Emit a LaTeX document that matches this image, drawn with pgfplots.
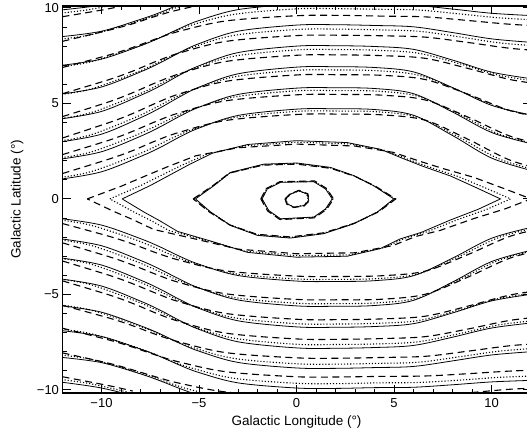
\documentclass[border=0pt]{standalone}
\usepackage{fontspec}
\setmainfont{Liberation Sans}
\usepackage{pgfplots}
\pgfplotsset{compat=1.18}

% contour styles: three models drawn solid, dotted, dashed
\pgfplotsset{
  sol/.style={black, line width=0.8pt, smooth, tension=0.55},
  dot/.style={black, line width=1.1pt, dash pattern=on 1.1pt off 2pt, smooth, tension=0.55},
  das/.style={black, line width=1.1pt, dash pattern=on 7pt off 4.5pt, smooth, tension=0.55},
  solp/.style={black, line width=0.8pt, sharp plot},
  dotp/.style={black, line width=1.1pt, dash pattern=on 1.1pt off 2pt, sharp plot},
  dasp/.style={black, line width=1.1pt, dash pattern=on 7pt off 4.5pt, sharp plot},
}

\begin{document}
\begin{tikzpicture}
\begin{axis}[
  scale only axis, width=468pt, height=386.8pt,
  xmin=-12, xmax=12, ymin=-10.15, ymax=10.1,
  axis line style={line width=1.5pt},
  xtick={-10,-5,0,5,10}, xticklabels={−10,−5,0,5,10},
  ytick={-10,-5,0,5,10}, yticklabels={−10,−5,0,5,10},
  minor x tick num=4, minor y tick num=4,
  tick align=inside, major tick length=8pt, minor tick length=4pt,
  tick style={black, line width=1pt},
  every tick label/.append style={font=\fontsize{13}{13}\selectfont},
  xticklabel style={yshift=-2pt},
  xlabel={Galactic Longitude (°)}, ylabel={Galactic Latitude (°)},
  every axis x label/.style={at={(axis description cs:0.5,-0.075)}, anchor=center, font=\fontsize{13.5}{14}\selectfont},
  every axis y label/.style={at={(axis description cs:-0.0972,0.5)}, rotate=90, anchor=center, font=\fontsize{13.5}{14}\selectfont},
  no markers, clip=true,
]
% ---------- upper contours, solid ----------
\addplot[sol] coordinates {(-12,1.05) (-10,1.42) (-8,2.22) (-7,2.69) (-6,3.24) (-5,3.71) (-3,4.37) (0,4.7) (2,4.72) (4,4.68) (6,4.38) (8,3.32) (10,2.14) (12,1.5)};
\addplot[sol] coordinates {(-12,2.1) (-10,2.47) (-8,3.28) (-7,3.77) (-6,4.32) (-5,4.8) (-3,5.47) (0,5.8) (2,5.82) (4,5.78) (6,5.51) (8,4.55) (10,3.48) (12,2.9)};
\addplot[sol] coordinates {(-12,3.0) (-10,3.39) (-8,4.25) (-7,4.76) (-6,5.34) (-5,5.85) (-3,6.55) (0,6.9) (2,6.92) (4,6.88) (6,6.65) (8,5.83) (10,4.9) (12,4.4)};
\addplot[sol] coordinates {(-12,4.2) (-10,4.58) (-8,5.42) (-7,5.91) (-6,6.48) (-5,6.97) (-3,7.66) (0,8.0) (2,8.02) (4,7.98) (6,7.83) (8,7.27) (10,6.64) (12,6.3)};
\addplot[sol] coordinates {(-12,5.5) (-10,5.86) (-8,6.65) (-7,7.12) (-6,7.66) (-5,8.13) (-3,8.78) (0,9.1) (2,9.12) (4,9.08) (6,9.01) (8,8.71) (10,8.38) (12,8.2)};
\addplot[sol] coordinates {(-12,7.0) (-10,7.32) (-8,8.02) (-7,8.44) (-6,8.92) (-5,9.34) (-3,9.91) (0,10.2) (2,10.22) (4,10.18) (6,10.14) (8,9.94) (10,9.72) (12,9.6)};
\addplot[sol] coordinates {(-12,8.5) (-10,8.78) (-8,9.4) (-7,9.76) (-6,10.18) (-5,10.54)};
\addplot[sol] coordinates {(-12,9.9) (-10,10.15) (-8,10.6)};
% ---------- upper contours, dotted ----------
\addplot[dot] coordinates {(-12.84,1.02) (-10.7,1.38) (-8.56,2.16) (-7.49,2.62) (-6.42,3.16) (-5.35,3.62) (-3.21,4.26) (0,4.58) (2.08,4.6) (4.16,4.56) (6.24,4.27) (8.32,3.24) (10.4,2.09) (12.48,1.46)};
\addplot[dot] coordinates {(-12.84,2.05) (-10.7,2.41) (-8.56,3.2) (-7.49,3.68) (-6.42,4.21) (-5.35,4.68) (-3.21,5.33) (0,5.66) (2.08,5.67) (4.16,5.64) (6.24,5.37) (8.32,4.44) (10.4,3.39) (12.48,2.83)};
\addplot[dot] coordinates {(-12.84,2.93) (-10.7,3.31) (-8.56,4.14) (-7.49,4.64) (-6.42,5.21) (-5.35,5.7) (-3.21,6.39) (0,6.73) (2.08,6.75) (4.16,6.71) (6.24,6.48) (8.32,5.68) (10.4,4.78) (12.48,4.29)};
\addplot[dot] coordinates {(-12.84,4.1) (-10.7,4.47) (-8.56,5.28) (-7.49,5.76) (-6.42,6.32) (-5.35,6.8) (-3.21,7.47) (0,7.8) (2.08,7.82) (4.16,7.78) (6.24,7.63) (8.32,7.09) (10.4,6.47) (12.48,6.14)};
\addplot[dot] coordinates {(-12.84,5.36) (-10.7,5.71) (-8.56,6.48) (-7.49,6.94) (-6.42,7.47) (-5.35,7.93) (-3.21,8.56) (0,8.87) (2.08,8.89) (4.16,8.85) (6.24,8.78) (8.32,8.49) (10.4,8.17) (12.48,8.0)};
\addplot[dot] coordinates {(-12.84,6.83) (-10.7,7.14) (-8.56,7.82) (-7.49,8.23) (-6.42,8.7) (-5.35,9.11) (-3.21,9.66) (0,9.95) (2.08,9.96) (4.16,9.93) (6.24,9.89) (8.32,9.69) (10.4,9.48) (12.48,9.36)};
\addplot[dot] coordinates {(-12.84,8.29) (-10.7,8.56) (-8.56,9.17) (-7.49,9.52) (-6.42,9.93) (-5.35,10.28)};
\addplot[dot] coordinates {(-12.84,9.65) (-10.7,9.9) (-8.56,10.34)};
% ---------- upper contours, dashed ----------
\addplot[das] coordinates {(-12,1.33) (-9.6,2.09) (-8.4,2.53) (-7.2,3.05) (-6,3.49) (-3.6,4.11) (0,4.42) (2.2,4.44) (4.4,4.4) (6.6,4.12) (8.8,3.12) (11,2.01) (13.2,1.41)};
\addplot[das] coordinates {(-12,2.32) (-9.6,3.08) (-8.4,3.54) (-7.2,4.06) (-6,4.51) (-3.6,5.14) (0,5.45) (2.2,5.47) (4.4,5.43) (6.6,5.18) (8.8,4.28) (11,3.27) (13.2,2.73)};
\addplot[das] coordinates {(-12,3.19) (-9.6,4.0) (-8.4,4.47) (-7.2,5.02) (-6,5.5) (-3.6,6.16) (0,6.49) (2.2,6.5) (4.4,6.47) (6.6,6.25) (8.8,5.48) (11,4.61) (13.2,4.14)};
\addplot[das] coordinates {(-12,4.31) (-9.6,5.09) (-8.4,5.56) (-7.2,6.09) (-6,6.55) (-3.6,7.2) (0,7.52) (2.2,7.54) (4.4,7.5) (6.6,7.36) (8.8,6.83) (11,6.24) (13.2,5.92)};
\addplot[das] coordinates {(-12,5.51) (-9.6,6.25) (-8.4,6.69) (-7.2,7.2) (-6,7.64) (-3.6,8.25) (0,8.55) (2.2,8.57) (4.4,8.54) (6.6,8.47) (8.8,8.19) (11,7.88) (13.2,7.71)};
\addplot[das] coordinates {(-12,6.88) (-9.6,7.54) (-8.4,7.93) (-7.2,8.38) (-6,8.78) (-3.6,9.32) (0,9.59) (2.2,9.61) (4.4,9.57) (6.6,9.53) (8.8,9.34) (11,9.14) (13.2,9.02)};
\addplot[das] coordinates {(-12,8.25) (-9.6,8.84) (-8.4,9.17) (-7.2,9.57) (-6,9.91) (-3.6,10.39) (0,10.62)};
\addplot[das] coordinates {(-12,9.54) (-9.6,9.96) (-8.4,10.25)};
% ---------- lower contours, solid ----------
\addplot[sol] coordinates {(-12,-1.04) (-10,-1.37) (-8,-2.08) (-7,-2.51) (-6,-3.0) (-5,-3.42) (-3,-4.01) (0,-4.3) (2,-4.32) (4,-4.28) (6,-4.02) (8,-3.1) (10,-2.06) (12,-1.5)};
\addplot[sol] coordinates {(-12,-2.1) (-10,-2.45) (-8,-3.22) (-7,-3.68) (-6,-4.2) (-5,-4.66) (-3,-5.29) (0,-5.6) (2,-5.62) (4,-5.58) (6,-5.31) (8,-4.35) (10,-3.28) (12,-2.7)};
\addplot[sol] coordinates {(-12,-3.1) (-10,-3.46) (-8,-4.25) (-7,-4.72) (-6,-5.26) (-5,-5.73) (-3,-6.38) (0,-6.7) (2,-6.72) (4,-6.68) (6,-6.53) (8,-5.97) (10,-5.34) (12,-5.0)};
\addplot[sol] coordinates {(-12,-4.2) (-10,-4.56) (-8,-5.35) (-7,-5.82) (-6,-6.36) (-5,-6.83) (-3,-7.48) (0,-7.8) (2,-7.82) (4,-7.78) (6,-7.67) (8,-7.24) (10,-6.76) (12,-6.5)};
\addplot[sol] coordinates {(-12,-5.6) (-10,-5.93) (-8,-6.64) (-7,-7.06) (-6,-7.55) (-5,-7.97) (-3,-8.56) (0,-8.85) (2,-8.87) (4,-8.83) (6,-8.77) (8,-8.48) (10,-8.17) (12,-8.0)};
\addplot[sol] coordinates {(-12,-6.9) (-10,-7.2) (-8,-7.86) (-7,-8.25) (-6,-8.7) (-5,-9.09) (-3,-9.63) (0,-9.9) (2,-9.92) (4,-9.88) (6,-9.86) (8,-9.73) (10,-9.58) (12,-9.5)};
\addplot[sol] coordinates {(-12,-8.3) (-10,-8.57) (-8,-9.16) (-7,-9.52) (-6,-9.92) (-5,-10.27) (-3,-10.76)};
\addplot[sol] coordinates {(-12,-9.6) (-10,-9.9) (-8,-10.4)};
% ---------- lower contours, dotted ----------
\addplot[dot] coordinates {(-12.84,-1.01) (-10.7,-1.34) (-8.56,-2.03) (-7.49,-2.45) (-6.42,-2.93) (-5.35,-3.33) (-3.21,-3.91) (0,-4.19) (2.08,-4.21) (4.16,-4.17) (6.24,-3.92) (8.32,-3.02) (10.4,-2.01) (12.48,-1.46)};
\addplot[dot] coordinates {(-12.84,-2.05) (-10.7,-2.39) (-8.56,-3.14) (-7.49,-3.59) (-6.42,-4.1) (-5.35,-4.54) (-3.21,-5.16) (0,-5.46) (2.08,-5.48) (4.16,-5.44) (6.24,-5.18) (8.32,-4.24) (10.4,-3.2) (12.48,-2.63)};
\addplot[dot] coordinates {(-12.84,-3.02) (-10.7,-3.37) (-8.56,-4.14) (-7.49,-4.6) (-6.42,-5.13) (-5.35,-5.59) (-3.21,-6.22) (0,-6.53) (2.08,-6.55) (4.16,-6.51) (6.24,-6.37) (8.32,-5.82) (10.4,-5.21) (12.48,-4.88)};
\addplot[dot] coordinates {(-12.84,-4.1) (-10.7,-4.45) (-8.56,-5.22) (-7.49,-5.67) (-6.42,-6.2) (-5.35,-6.66) (-3.21,-7.29) (0,-7.61) (2.08,-7.62) (4.16,-7.59) (6.24,-7.48) (8.32,-7.06) (10.4,-6.59) (12.48,-6.34)};
\addplot[dot] coordinates {(-12.84,-5.46) (-10.7,-5.78) (-8.56,-6.47) (-7.49,-6.88) (-6.42,-7.36) (-5.35,-7.77) (-3.21,-8.35) (0,-8.63) (2.08,-8.65) (4.16,-8.61) (6.24,-8.55) (8.32,-8.27) (10.4,-7.97) (12.48,-7.8)};
\addplot[dot] coordinates {(-12.84,-6.73) (-10.7,-7.02) (-8.56,-7.66) (-7.49,-8.04) (-6.42,-8.48) (-5.35,-8.86) (-3.21,-9.39) (0,-9.65) (2.08,-9.67) (4.16,-9.63) (6.24,-9.61) (8.32,-9.49) (10.4,-9.34) (12.48,-9.26)};
\addplot[dot] coordinates {(-12.84,-8.09) (-10.7,-8.36) (-8.56,-8.93) (-7.49,-9.28) (-6.42,-9.67) (-5.35,-10.01) (-3.21,-10.49)};
\addplot[dot] coordinates {(-12.84,-9.36) (-10.7,-9.65) (-8.56,-10.14)};
% ---------- lower contours, dashed ----------
\addplot[das] coordinates {(-12,-1.29) (-9.6,-1.96) (-8.4,-2.36) (-7.2,-2.82) (-6,-3.21) (-3.6,-3.77) (0,-4.04) (2.2,-4.06) (4.4,-4.02) (6.6,-3.78) (8.8,-2.91) (11,-1.94) (13.2,-1.41)};
\addplot[das] coordinates {(-12,-2.3) (-9.6,-3.03) (-8.4,-3.46) (-7.2,-3.95) (-6,-4.38) (-3.6,-4.97) (0,-5.26) (2.2,-5.28) (4.4,-5.25) (6.6,-4.99) (8.8,-4.09) (11,-3.08) (13.2,-2.54)};
\addplot[das] coordinates {(-12,-3.25) (-9.6,-4.0) (-8.4,-4.44) (-7.2,-4.94) (-6,-5.39) (-3.6,-6.0) (0,-6.3) (2.2,-6.32) (4.4,-6.28) (6.6,-6.14) (8.8,-5.61) (11,-5.02) (13.2,-4.7)};
\addplot[das] coordinates {(-12,-4.29) (-9.6,-5.03) (-8.4,-5.47) (-7.2,-5.98) (-6,-6.42) (-3.6,-7.03) (0,-7.33) (2.2,-7.35) (4.4,-7.31) (6.6,-7.21) (8.8,-6.81) (11,-6.35) (13.2,-6.11)};
\addplot[das] coordinates {(-12,-5.57) (-9.6,-6.24) (-8.4,-6.64) (-7.2,-7.1) (-6,-7.49) (-3.6,-8.05) (0,-8.32) (2.2,-8.34) (4.4,-8.3) (6.6,-8.24) (8.8,-7.97) (11,-7.68) (13.2,-7.52)};
\addplot[das] coordinates {(-12,-6.77) (-9.6,-7.39) (-8.4,-7.76) (-7.2,-8.18) (-6,-8.54) (-3.6,-9.05) (0,-9.31) (2.2,-9.32) (4.4,-9.29) (6.6,-9.27) (8.8,-9.15) (11,-9.01) (13.2,-8.93)};
\addplot[das] coordinates {(-12,-8.06) (-9.6,-8.61) (-8.4,-8.95) (-7.2,-9.32) (-6,-9.65) (-3.6,-10.11) (0,-10.34) (2.2,-10.36) (4.4,-10.33) (6.6,-10.29) (8.8,-10.15) (11,-9.96) (13.2,-9.87)};
\addplot[das] coordinates {(-12,-9.31) (-9.6,-9.78) (-8.4,-10.06)};
% ---------- outer lens (saddle to saddle) ----------
\addplot[solp] coordinates {(-8.94,0) (-7.5,0.7) (-6.5,1.25) (-5.5,1.8) (-4.3,2.4) (-2.5,2.85) (0,3.05) (2.6,2.95) (4.3,2.6) (5.5,2.1) (6.5,1.7) (7.9,1.2) (9.3,0.55) (10.46,0) (9.3,-0.55) (7.9,-1.1) (6.4,-1.75) (5.3,-2.1) (4.3,-2.6) (2.6,-3.0) (0,-3.05) (-2.5,-2.8) (-4.25,-2.25) (-6.1,-1.7) (-7.0,-1.15) (-7.8,-0.7) (-8.94,0)};
\addplot[dotp] coordinates {(-9.57,0) (-8.03,0.68) (-6.96,1.22) (-5.89,1.76) (-4.6,2.34) (-2.68,2.78) (0,2.97) (2.73,2.88) (4.52,2.54) (5.78,2.05) (6.83,1.66) (8.3,1.17) (9.77,0.54) (10.98,0) (9.77,-0.54) (8.3,-1.07) (6.72,-1.71) (5.57,-2.05) (4.52,-2.54) (2.73,-2.93) (0,-2.97) (-2.68,-2.73) (-4.55,-2.19) (-6.53,-1.66) (-7.49,-1.12) (-8.35,-0.68) (-9.57,0)};
\addplot[dasp] coordinates {(-10.73,0) (-9.0,0.66) (-7.8,1.18) (-6.6,1.69) (-5.16,2.26) (-3.0,2.68) (0,2.87) (2.99,2.77) (4.95,2.44) (6.33,1.97) (7.48,1.6) (9.09,1.13) (10.7,0.52) (12.03,0) (10.7,-0.52) (9.09,-1.03) (7.36,-1.65) (6.1,-1.97) (4.95,-2.44) (2.99,-2.82) (0,-2.87) (-3.0,-2.63) (-5.1,-2.12) (-7.32,-1.6) (-8.4,-1.08) (-9.36,-0.66) (-10.73,0)};
% ---------- inner eye ----------
\addplot[solp] coordinates {(-5.18,0) (-4.24,0.69) (-3.38,1.39) (-1.68,1.82) (0.03,1.88) (1.74,1.65) (2.94,1.22) (3.96,0.69) (4.99,0) (4.14,-0.69) (2.94,-1.3) (1.4,-1.82) (-0.31,-2.05) (-2.0,-1.91) (-3.38,-1.39) (-4.4,-0.69) (-5.18,0)};
\addplot[dotp] coordinates {(-5.25,0) (-4.28,0.68) (-3.41,1.36) (-1.7,1.79) (0.03,1.85) (1.76,1.62) (2.97,1.2) (4.0,0.67) (5.05,0) (4.18,-0.67) (2.97,-1.27) (1.41,-1.79) (-0.31,-2.02) (-2.02,-1.88) (-3.41,-1.36) (-4.44,-0.67) (-5.25,0)};
\addplot[dasp] coordinates {(-5.3,0) (-4.32,0.67) (-3.45,1.35) (-1.71,1.77) (0.03,1.82) (1.77,1.6) (3.0,1.18) (4.04,0.67) (5.09,0) (4.22,-0.67) (3.0,-1.26) (1.43,-1.77) (-0.32,-1.99) (-2.04,-1.85) (-3.45,-1.35) (-4.49,-0.67) (-5.3,0)};
% ---------- central rings ----------
\addplot[solp] coordinates {(-1.76,0) (-1.5,0.52) (-0.82,0.87) (0.89,0.9) (1.49,0.52) (1.83,0) (1.49,-0.52) (0.89,-0.95) (-0.82,-1.04) (-1.42,-0.61) (-1.76,0)};
\addplot[dotp] coordinates {(-1.8,0) (-1.53,0.53) (-0.84,0.89) (0.91,0.92) (1.52,0.53) (1.87,0) (1.52,-0.53) (0.91,-0.97) (-0.84,-1.06) (-1.45,-0.62) (-1.8,0)};
\addplot[dasp] coordinates {(-1.83,0) (-1.56,0.54) (-0.85,0.9) (0.93,0.94) (1.55,0.54) (1.9,0) (1.55,-0.54) (0.93,-0.99) (-0.85,-1.08) (-1.48,-0.63) (-1.83,0)};
\addplot[solp] coordinates {(-0.56,0) (-0.3,0.26) (0.12,0.43) (0.55,0.26) (0.63,-0.09) (0.37,-0.35) (-0.14,-0.43) (-0.48,-0.26) (-0.56,0)};
\addplot[dotp] coordinates {(-0.54,0) (-0.29,0.25) (0.12,0.42) (0.53,0.25) (0.61,-0.09) (0.36,-0.34) (-0.14,-0.42) (-0.47,-0.25) (-0.54,0)};
\addplot[dasp] coordinates {(-0.59,0) (-0.32,0.27) (0.13,0.45) (0.58,0.27) (0.66,-0.09) (0.39,-0.37) (-0.15,-0.45) (-0.5,-0.27) (-0.59,0)};
\end{axis}
\pgfresetboundingbox
\path (-62.5pt,-41pt) rectangle (464.5pt,392.8pt);
\end{tikzpicture}
\end{document}
